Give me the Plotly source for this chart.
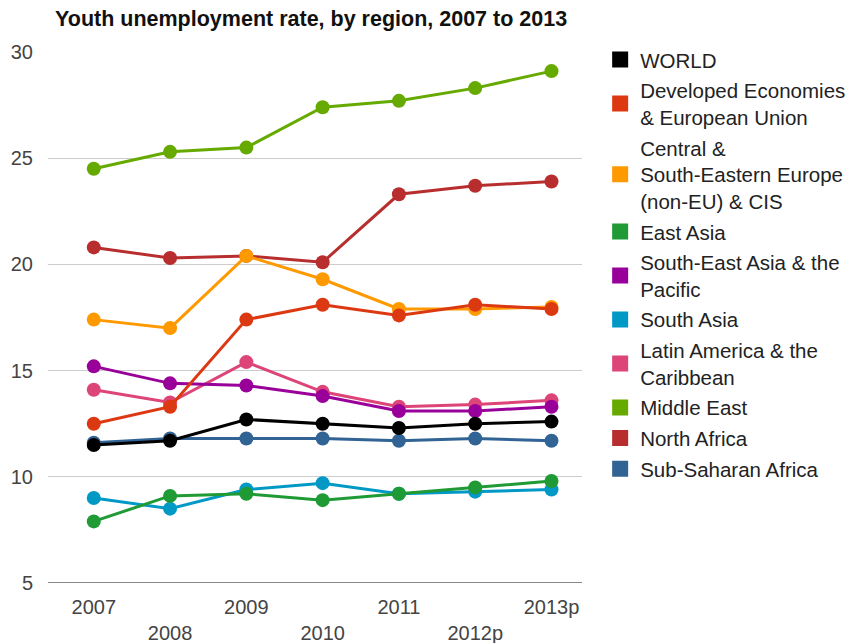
import plotly.graph_objects as go

years = ["2007", "2008", "2009", "2010", "2011", "2012p", "2013p"]
tick_text = ["2007", "<br>2008", "2009", "<br>2010", "2011", "<br>2012p", "2013p"]

names = [
    "WORLD",
    "Developed Economies<br>& European Union",
    "Central &<br>South-Eastern Europe<br>(non-EU) & CIS",
    "East Asia",
    "South-East Asia & the<br>Pacific",
    "South Asia",
    "Latin America & the<br>Caribbean",
    "Middle East",
    "North Africa",
    "Sub-Saharan Africa",
]
colors = ["#000000", "#dc3912", "#ff9900", "#1f9a34", "#990099",
          "#0099c6", "#dd4477", "#66aa00", "#b82e2e", "#316395"]

world = [11.5, 11.7, 12.7, 12.5, 12.3, 12.5, 12.6]
developed = [12.5, 13.3, 17.4, 18.1, 17.6, 18.1, 17.9]
central_see = [17.4, 17.0, 20.4, 19.3, 17.9, 17.9, 18.0]
east_asia = [7.9, 9.1, 9.2, 8.9, 9.2, 9.5, 9.8]
se_asia = [15.2, 14.4, 14.3, 13.8, 13.1, 13.1, 13.3]
south_asia = [9.0, 8.5, 9.4, 9.7, 9.2, 9.3, 9.4]
latin_america = [14.1, 13.5, 15.4, 14.0, 13.3, 13.4, 13.6]
middle_east = [24.5, 25.3, 25.5, 27.4, 27.7, 28.3, 29.1]
north_africa = [20.8, 20.3, 20.4, 20.1, 23.3, 23.7, 23.9]
sub_saharan = [11.6, 11.8, 11.8, 11.8, 11.7, 11.8, 11.7]

series = [world, developed, central_see, east_asia, se_asia, south_asia,
          latin_america, middle_east, north_africa, sub_saharan]

fig = go.Figure()

for i in reversed(range(len(series))):
    fig.add_trace(go.Scatter(
        x=years, y=series[i], mode="lines+markers",
        line=dict(color=colors[i], width=3),
        marker=dict(color=colors[i], size=14),
        showlegend=False, name=names[i].replace("<br>", " "),
    ))

for i in range(len(series)):
    fig.add_trace(go.Scatter(
        x=[None], y=[None], mode="markers",
        marker=dict(color=colors[i], size=18, symbol="square"),
        name=names[i], legendgroup="g%02d" % i, showlegend=True,
    ))

fig.update_layout(
    width=855, height=643,
    margin=dict(l=48, r=273, t=52, b=60, autoexpand=False),
    paper_bgcolor="white", plot_bgcolor="white",
    font=dict(family="Liberation Sans, Arial, sans-serif", size=20, color="#333333"),
    title=dict(text="<b>Youth unemployment rate, by region, 2007 to 2013</b>",
               x=55 / 855, xanchor="left", y=1 - 18 / 643, yanchor="middle",
               font=dict(size=21.5, color="#111111")),
    legend=dict(x=1.034, xanchor="left", y=1.023, yanchor="top",
                font=dict(size=20.5, color="#222222"),
                tracegroupgap=1, traceorder="grouped", maxheight=620,
                bgcolor="rgba(0,0,0,0)"),
    hovermode=False,
)

fig.update_xaxes(
    type="category", range=[-0.6, 6.4], automargin=False,
    tickmode="array", tickvals=years, ticktext=tick_text,
    showgrid=False, showline=False, zeroline=False, ticks="",
    ticklabelstandoff=10,
    tickfont=dict(size=20, color="#444444"),
)
fig.update_yaxes(
    range=[5, 30], tickvals=[5, 10, 15, 20, 25, 30], automargin=False,
    showgrid=True, gridcolor="#cccccc", gridwidth=1,
    zeroline=False, showline=False, ticks="",
    ticklabelstandoff=14,
    tickfont=dict(size=20, color="#444444"),
)
fig.add_hline(y=5, line=dict(color="#888888", width=2), layer="below")

fig.write_html("out.html")
